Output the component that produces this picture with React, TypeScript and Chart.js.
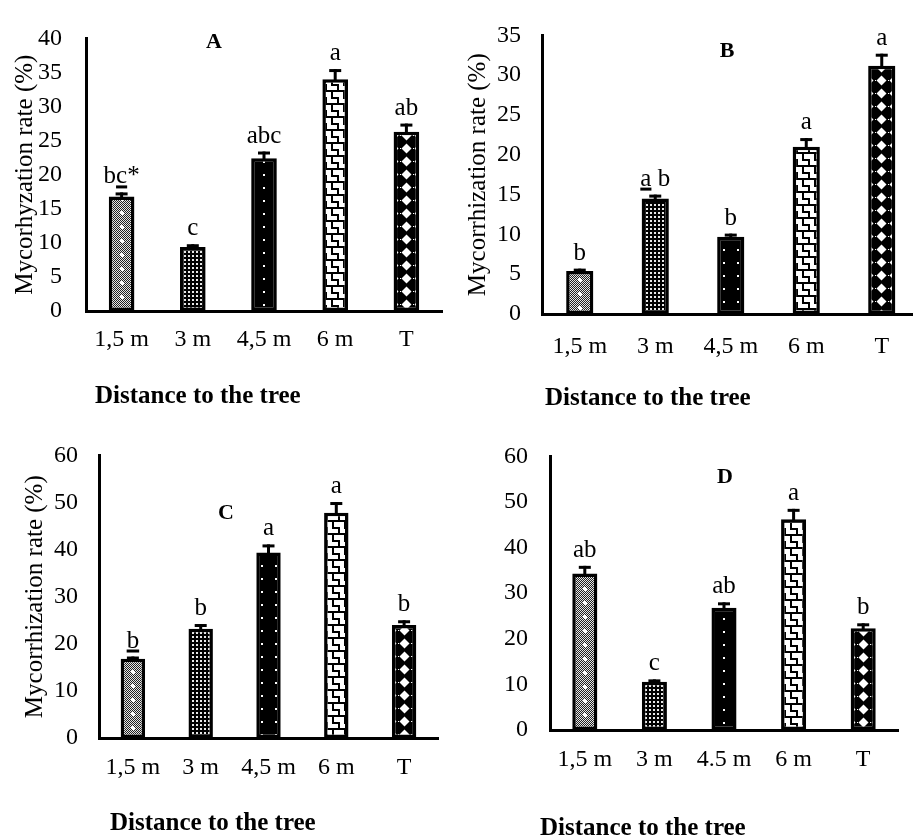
import React, { useEffect, useRef } from "react";
import { Chart, registerables } from "chart.js";

Chart.register(...registerables);

const SERIF = '"Liberation Serif", "Times New Roman", "DejaVu Serif", serif';

// ---------- data ----------
const categoriesABC = ["1,5 m", "3 m", "4,5 m", "6 m", "T"];
const categoriesD = ["1,5 m", "3 m", "4.5 m", "6 m", "T"];

const valuesA = [16.8, 9.4, 22.4, 34.0, 26.3];
const errorsA = [0.6, 0.4, 1.0, 1.5, 1.2];
const lettersA = ["b_c*", "c", "abc", "a", "ab"];

const valuesB = [5.4, 14.5, 9.7, 21.0, 31.2];
const errorsB = [0.3, 0.5, 0.4, 1.1, 1.5];
const lettersB = ["b", "_a b", "b", "a", "a"];

const valuesC = [16.8, 23.2, 39.4, 47.8, 24.0];
const errorsC = [0.5, 1.0, 1.7, 2.3, 1.0];
const lettersC = ["_b", "b", "a", "a", "b"];

const valuesD = [34.3, 10.6, 26.8, 46.2, 22.3];
const errorsD = [1.7, 0.5, 1.2, 2.3, 1.1];
const lettersD = ["ab", "c", "ab", "a", "b"];

const yTitleA = "Mycorhyzation rate (%)";
const yTitleBC = "Mycorrhization rate (%)";
const xTitleText = "Distance to the tree";
const panelNames = ["A", "B", "C", "D"];

// ---------- patterns ----------
type Kind = "speckle" | "grid" | "dots1" | "dots2" | "brick" | "diamond";
const tileCache: Record<string, HTMLCanvasElement> = {};
function tile(kind: Kind): HTMLCanvasElement {
  if (tileCache[kind]) return tileCache[kind];
  const sizes: Record<Kind, [number, number]> = {
    speckle: [14, 14],
    grid: [4, 4],
    dots1: [14, 13],
    dots2: [14, 13],
    brick: [12, 13],
    diamond: [13, 13],
  };
  const [w, h] = sizes[kind];
  const c = document.createElement("canvas");
  c.width = w;
  c.height = h;
  const g = c.getContext("2d")!;
  if (kind === "speckle") {
    for (let y = 0; y < h; y++)
      for (let x = 0; x < w; x++) {
        g.fillStyle = (x + y) % 2 ? "#222" : "#e6e6e6";
        g.fillRect(x, y, 1, 1);
      }
    g.fillStyle = "#fff";
    g.fillRect(6, 5, 2, 4);
    g.fillRect(5, 6, 4, 2);
  } else if (kind === "grid") {
    g.fillStyle = "#000";
    g.fillRect(0, 0, w, h);
    g.fillStyle = "#e8e8e8";
    g.fillRect(1, 1, 2, 2);
  } else if (kind === "dots1" || kind === "dots2") {
    g.fillStyle = "#000";
    g.fillRect(0, 0, w, h);
    g.fillStyle = "#fff";
    if (kind === "dots1") g.fillRect(6, 6, 2, 2);
    else {
      g.fillRect(0, 6, 1, 2);
      g.fillRect(13, 6, 1, 2);
    }
  } else if (kind === "brick") {
    g.fillStyle = "#fff";
    g.fillRect(0, 0, w, h);
    g.fillStyle = "#000";
    g.fillRect(0, 0, 12, 2);
    g.fillRect(2, 2, 2, 6);
    g.fillRect(2, 7, 6, 2);
    g.fillRect(8, 7, 2, 6);
  } else {
    g.fillStyle = "#000";
    g.fillRect(0, 0, w, h);
    g.fillStyle = "#fff";
    g.beginPath();
    g.moveTo(6.5, 1.5);
    g.lineTo(11.5, 6.5);
    g.lineTo(6.5, 11.5);
    g.lineTo(1.5, 6.5);
    g.closePath();
    g.fill();
    g.fillRect(0, 6, 1, 1);
  }
  tileCache[kind] = c;
  return c;
}

// ---------- helpers ----------
function drawMarked(ctx: CanvasRenderingContext2D, s: string, cx: number, baseline: number) {
  const parts: { ch: string; u: boolean }[] = [];
  for (let i = 0; i < s.length; i++) {
    if (s[i] === "_" && i + 1 < s.length) {
      parts.push({ ch: s[i + 1], u: true });
      i++;
    } else parts.push({ ch: s[i], u: false });
  }
  const plain = parts.map((p) => p.ch).join("");
  const total = ctx.measureText(plain).width;
  let x = cx - total / 2;
  ctx.textAlign = "left";
  ctx.textBaseline = "alphabetic";
  ctx.fillText(plain, x, baseline);
  for (const p of parts) {
    const w = ctx.measureText(p.ch).width;
    if (p.u) ctx.fillRect(x, baseline + 2, w, 3);
    x += w;
  }
}

const decorPlugin = {
  id: "decor",
  afterDatasetsDraw(chart: any, _args: any, opts: any) {
    const ctx: CanvasRenderingContext2D = chart.ctx;
    const meta = chart.getDatasetMeta(0);
    const ys = chart.scales.y;
    const vals = chart.data.datasets[0].data as number[];
    ctx.save();
    ctx.fillStyle = "#000";
    meta.data.forEach((bar: any, i: number) => {
      const top = ys.getPixelForValue(vals[i] + opts.errors[i]);
      const x = bar.x;
      const yb = bar.y;
      ctx.fillRect(x - 1.5, top, 3, yb - top + 1);
      ctx.fillRect(x - 6, top, 12, 3);
      ctx.font = `25px ${SERIF}`;
      drawMarked(ctx, opts.letters[i], x, top - 9);
    });
    ctx.font = `bold 22px ${SERIF}`;
    ctx.textAlign = "center";
    ctx.textBaseline = "middle";
    ctx.fillText(opts.panel, opts.panelX, opts.panelY);
    ctx.font = `bold 25px ${SERIF}`;
    ctx.textAlign = "left";
    ctx.textBaseline = "alphabetic";
    ctx.fillText(xTitleText, opts.xTitleX, opts.xTitleY);
    ctx.restore();
  },
};

// ---------- panels (layout / style) ----------
interface Panel {
  left: number;
  top: number;
  w: number;
  h: number;
  cats: string[];
  values: number[];
  errors: number[];
  letters: string[];
  yMax: number;
  yStep: number;
  yTitle: string | null;
  kinds: Kind[];
  yw: number;
  padTop: number;
  padBottom: number;
  padRight: number;
  titlePad: number;
  xTickPad: number;
  yTickPad: number;
  panelX: number;
  panelY: number;
  xTitleX: number;
  xTitleY: number;
}

const PANELS: Panel[] = [
  {
    left: 0, top: 0, w: 456, h: 420,
    cats: categoriesABC, values: valuesA, errors: errorsA, letters: lettersA,
    yMax: 40, yStep: 5, yTitle: yTitleA,
    kinds: ["speckle", "grid", "dots1", "brick", "diamond"],
    yw: 86, padTop: 19, padBottom: 49, padRight: 14, titlePad: 10, xTickPad: 14, yTickPad: 24,
    panelX: 214, panelY: 42, xTitleX: 95, xTitleY: 403,
  },
  {
    left: 456, top: 0, w: 470, h: 420,
    cats: categoriesABC, values: valuesB, errors: errorsB, letters: lettersB,
    yMax: 35, yStep: 5, yTitle: yTitleBC,
    kinds: ["speckle", "grid", "dots2", "brick", "diamond"],
    yw: 86, padTop: 27, padBottom: 46, padRight: 6.5, titlePad: 7, xTickPad: 18, yTickPad: 21,
    panelX: 271, panelY: 51, xTitleX: 89, xTitleY: 405,
  },
  {
    left: 0, top: 420, w: 456, h: 420,
    cats: categoriesABC, values: valuesC, errors: errorsC, letters: lettersC,
    yMax: 60, yStep: 10, yTitle: yTitleBC,
    kinds: ["speckle", "grid", "dots2", "brick", "diamond"],
    yw: 99, padTop: 18, padBottom: 42, padRight: 18, titlePad: 20, xTickPad: 15, yTickPad: 21,
    panelX: 226, panelY: 93, xTitleX: 110, xTitleY: 410,
  },
  {
    left: 456, top: 420, w: 457, h: 420,
    cats: categoriesD, values: valuesD, errors: errorsD, letters: lettersD,
    yMax: 60, yStep: 10, yTitle: null,
    kinds: ["speckle", "grid", "dots1", "brick", "diamond"],
    yw: 94, padTop: 28, padBottom: 50, padRight: 15, titlePad: 10, xTickPad: 15, yTickPad: 22,
    panelX: 269, panelY: 57, xTitleX: 84, xTitleY: 415,
  },
];

function buildConfig(p: Panel, name: string): any {
  return {
    type: "bar",
    data: {
      labels: p.cats,
      datasets: [
        {
          data: p.values,
          borderColor: "#000",
          borderWidth: 3.5,
          borderSkipped: false,
          categoryPercentage: 1,
          barPercentage: 0.36,
          backgroundColor: (c: any) => {
            const kind = p.kinds[c.dataIndex] || "grid";
            const t = tile(kind);
            const pat: any = c.chart.ctx.createPattern(t, "repeat");
            const sx = c.chart.scales && c.chart.scales.x;
            const cx = sx && sx.width ? sx.getPixelForValue(c.dataIndex) : 0;
            const top = c.chart.chartArea ? c.chart.chartArea.top : 0;
            if (pat && pat.setTransform) {
              pat.setTransform(new DOMMatrix([1, 0, 0, 1, Math.round(cx - t.width / 2), Math.round(top)]));
            }
            return pat;
          },
        },
      ],
    },
    options: {
      animation: false,
      responsive: false,
      layout: { padding: { left: 0, top: p.padTop, right: p.padRight, bottom: p.padBottom } },
      plugins: {
        legend: { display: false },
        tooltip: { enabled: false },
        decor: {
          errors: p.errors,
          letters: p.letters,
          panel: name,
          panelX: p.panelX,
          panelY: p.panelY,
          xTitleX: p.xTitleX,
          xTitleY: p.xTitleY,
        },
      },
      scales: {
        x: {
          type: "category",
          grid: { display: false, drawTicks: false },
          border: { display: true, color: "#000", width: 3 },
          ticks: {
            color: "#000",
            font: { family: SERIF, size: 24 },
            padding: p.xTickPad,
            maxRotation: 0,
            autoSkip: false,
          },
          afterFit: (s: any) => {
            s.height = 60;
          },
        },
        y: {
          min: 0,
          max: p.yMax,
          grid: { display: false, drawTicks: false },
          border: { display: true, color: "#000", width: 3 },
          ticks: {
            stepSize: p.yStep,
            color: "#000",
            font: { family: SERIF, size: 24 },
            padding: p.yTickPad,
          },
          title: {
            display: !!p.yTitle,
            text: p.yTitle || "",
            color: "#000",
            font: { family: SERIF, size: 25 },
            padding: { top: p.titlePad, bottom: 0 },
          },
          afterFit: (s: any) => {
            s.width = p.yw;
          },
        },
      },
    },
    plugins: [decorPlugin],
  };
}

export default function App() {
  const r0 = useRef<HTMLCanvasElement>(null);
  const r1 = useRef<HTMLCanvasElement>(null);
  const r2 = useRef<HTMLCanvasElement>(null);
  const r3 = useRef<HTMLCanvasElement>(null);
  const refs = [r0, r1, r2, r3];

  useEffect(() => {
    const charts = PANELS.map((p, i) => new Chart(refs[i].current!, buildConfig(p, panelNames[i])));
    return () => charts.forEach((c) => c.destroy());
  }, []);

  return (
    <div
      style={{
        position: "absolute",
        left: 0,
        top: 0,
        width: 913,
        height: 840,
        overflow: "hidden",
        background: "#fff",
      }}
    >
      {PANELS.map((p, i) => (
        <canvas
          key={i}
          ref={refs[i]}
          width={p.w}
          height={p.h}
          style={{ position: "absolute", left: p.left, top: p.top, width: p.w, height: p.h }}
        />
      ))}
    </div>
  );
}
